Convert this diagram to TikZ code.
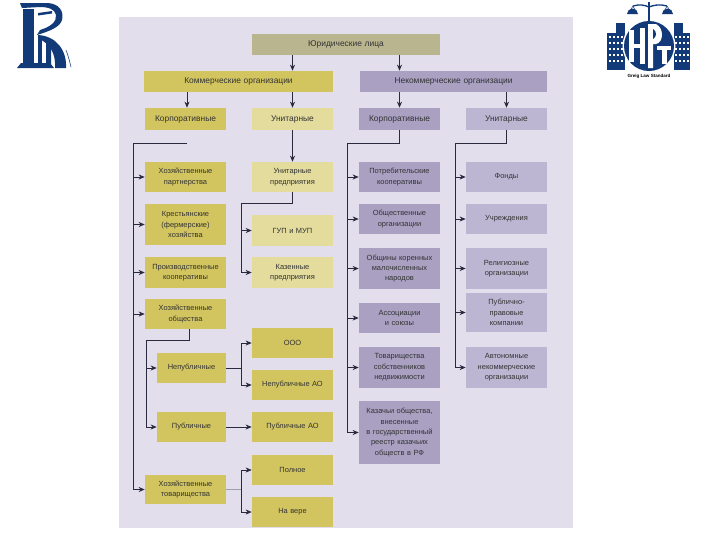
\documentclass[tikz,border=0pt]{standalone}
\usepackage{fontspec}
\setmainfont{Liberation Sans}
\usetikzlibrary{arrows.meta}
\definecolor{panel}{HTML}{E3DEEB}
\definecolor{topc}{HTML}{B9B58F}
\definecolor{ydark}{HTML}{D2C560}
\definecolor{ylite}{HTML}{E3DC9C}
\definecolor{pdark}{HTML}{A9A0C2}
\definecolor{plite}{HTML}{BDB6D3}
\definecolor{navy}{HTML}{123A78}
\definecolor{ink}{HTML}{2A2A3E}
\definecolor{txt}{HTML}{333333}
\tikzset{
 x=0.75pt,y=-0.75pt,
 bxs/.style={inner sep=0pt,align=center,text=txt,font=\fontsize{5.6}{7.8}\selectfont},
 head/.style={bxs,font=\fontsize{6.3}{8}\selectfont},
 tc/.style={head,fill=topc},
 yd/.style={bxs,fill=ydark},
 yl/.style={bxs,fill=ylite},
 pd/.style={bxs,fill=pdark},
 pl/.style={bxs,fill=plite},
 yh/.style={head,fill=ydark},
 ylh/.style={head,fill=ylite},
 ph/.style={head,fill=pdark},
 plh/.style={head,fill=plite},
 conn/.style={draw=ink,line width=0.65pt},
 arr/.style={conn,-{Stealth[length=4.6pt,width=3.8pt]}},
 faint/.style={draw=ink!45,line width=0.4pt},
 logo/.style={fill=navy,draw=none}
}
\newcommand\bx[7]{%
 \pgfmathsetmacro\cxx{(#3+#5)/2}\pgfmathsetmacro\cyy{(#4+#6)/2}%
 \pgfmathsetmacro\wdd{(#5-#3)*0.75}\pgfmathsetmacro\htt{(#6-#4)*0.75}%
 \node[#2,minimum width=\wdd pt,minimum height=\htt pt,text width=\wdd pt] (#1) at (\cxx,\cyy) {#7};}
\begin{document}
\begin{tikzpicture}
\useasboundingbox (0,0) rectangle (720,540);
\fill[white] (0,0) rectangle (720,540);
\fill[panel] (119,17) rectangle (573,528);
% boxes
\bx{top}{tc}{252}{34}{440}{55}{Юридические лица}
\bx{com}{yh}{144}{71}{333}{92}{Коммерческие организации}
\bx{non}{ph}{360}{71}{547}{92}{Некоммерческие организации}
\bx{cc}{yh}{145}{108}{226}{130}{Корпоративные}
\bx{cu}{ylh}{252}{108}{333}{130}{Унитарные}
\bx{nc}{ph}{359}{108}{440}{130}{Корпоративные}
\bx{nu}{plh}{466}{108}{547}{130}{Унитарные}
\bx{a1}{yd}{145}{162}{226}{192}{Хозяйственные\\партнерства}
\bx{a2}{yd}{145}{204}{226}{245}{Крестьянские\\(фермерские)\\хозяйства}
\bx{a3}{yd}{145}{257}{226}{288}{Производственные\\кооперативы}
\bx{a4}{yd}{145}{299}{226}{329}{Хозяйственные\\общества}
\bx{a5}{yd}{157}{353}{226}{383}{Непубличные}
\bx{a6}{yd}{157}{412}{226}{442}{Публичные}
\bx{a7}{yd}{145}{475}{226}{504}{Хозяйственные\\товарищества}
\bx{b1}{yl}{252}{162}{333}{192}{Унитарные\\предприятия}
\bx{b2}{yl}{252}{215}{333}{246}{ГУП и МУП}
\bx{b3}{yl}{252}{257}{333}{288}{Казенные\\предприятия}
\bx{b4}{yd}{252}{328}{333}{358}{ООО}
\bx{b5}{yd}{252}{370}{333}{400}{Непубличные АО}
\bx{b6}{yd}{252}{412}{333}{442}{Публичные АО}
\bx{b7}{yd}{252}{455}{333}{485}{Полное}
\bx{b8}{yd}{252}{497}{333}{527}{На вере}
\bx{c1}{pd}{359}{162}{440}{192}{Потребительские\\кооперативы}
\bx{c2}{pd}{359}{204}{440}{234}{Общественные\\организации}
\bx{c3}{pd}{359}{248}{440}{289}{Общины коренных\\малочисленных\\народов}
\bx{c4}{pd}{359}{303}{440}{333}{Ассоциации\\и союзы}
\bx{c5}{pd}{359}{347}{440}{388}{Товарищества\\собственников\\недвижимости}
\bx{c6}{pd}{359}{401}{440}{464}{Казачьи общества,\\внесенные\\в государственный\\реестр казачьих\\обществ в РФ}
\bx{d1}{pl}{466}{162}{547}{192}{Фонды}
\bx{d2}{pl}{466}{204}{547}{234}{Учреждения}
\bx{d3}{pl}{466}{248}{547}{289}{Религиозные\\организации}
\bx{d4}{pl}{466}{293}{547}{332}{Публично-\\правовые\\компании}
\bx{d5}{pl}{466}{347}{547}{388}{Автономные\\некоммерческие\\организации}
% routing points
\coordinate (s1) at (133,143); \coordinate (s1e) at (187,143);
\coordinate (s2) at (347,143);
\coordinate (s3) at (455,143);
\coordinate (s4) at (241,203);
\coordinate (s5) at (146,340);
\coordinate (s6) at (241,368);
\coordinate (s7) at (241,489.5);
% top connectors
\draw[arr] (top.south -| cu) -- (com.north -| cu);
\draw[arr] (top.south -| nc) -- (non.north -| nc);
\draw[arr] (com.south -| s1e) -- (cc.north -| s1e);
\draw[arr] (com.south -| cu) -- (cu.north);
\draw[arr] (non.south -| nc) -- (nc.north);
\draw[arr] (non.south -| nu) -- (nu.north);
\draw[arr] (cu.south) -- (b1.north);
% commercial corporate
\draw[conn] (s1e) -- (s1);
\foreach \n in {a1,a2,a3,a4,a7} \draw[arr] (s1) |- (\n.west);
% unitary enterprises
\draw[conn] (b1.south) |- (s4);
\foreach \n in {b2,b3} \draw[arr] (s4) |- (\n.west);
% companies
\draw[conn] (a4.south -| 189,0) |- (s5);
\foreach \n in {a5,a6} \draw[arr] (s5) |- (\n.west);
\draw[conn] (a5.east) -- (s6);
\foreach \n in {b4,b5} \draw[arr] (s6) |- (\n.west);
\draw[arr] (a6.east) -- (b6.west);
% partnerships
\draw[faint] (a7.east) -- (s7);
\foreach \n in {b7,b8} \draw[arr,line width=0.45pt] (s7) |- (\n.west);
% non-commercial
\draw[conn] (nc.south) |- (s2);
\foreach \n in {c1,c2,c3,c4,c5,c6} \draw[arr] (s2) |- (\n.west);
\draw[conn] (nu.south) |- (s3);
\foreach \n in {d1,d2,d3,d4,d5} \draw[arr] (s3) |- (\n.west);
% left emblem
\fill[logo] (23,9) rectangle (34,66);
\fill[logo] (17,68) -- (21,63) -- (50,63) -- (54,68) -- cycle;
\fill[logo] (20,3) -- (48,3) .. controls (60,4) and (64,12) .. (62,20) .. controls (60,27) and (50,31) .. (37,35) -- (40,30) .. controls (50,27) and (57,22) .. (56,15) .. controls (55,9) and (48,7) .. (40,7) -- (22,8) -- cycle;
\fill[logo] (38,13) -- (52,11) -- (52,13.5) -- (38,15.5) -- cycle;
\fill[logo] (38,35) .. controls (56,36) and (67,50) .. (66,68) -- (55,68) .. controls (56,54) and (50,43) .. (38,38.5) -- cycle;
\fill[logo] (46,42) -- (51,46) -- (51,65) -- (46,65) -- cycle;
\fill[logo] (38,38) -- (42,38) -- (42,64) -- (38,64) -- cycle;
\draw[navy,line width=0.4pt] (66,50) .. controls (69,58) and (70,63) .. (71,67);
% right emblem: buildings
\foreach \bxl/\bxr/\by in {607/625/33,616/625/23,674/690/33,674/683/23}{
 \fill[logo] (\bxl,\by) rectangle (\bxr,70);
}
\foreach \gy in {37,43,49,55,61}{
 \draw[white,line width=0.9pt,dash pattern=on 1.5pt off 1.5pt] (609,\gy) -- (624,\gy);
 \draw[white,line width=0.9pt,dash pattern=on 1.5pt off 1.5pt] (675,\gy) -- (689,\gy);
}
\fill[white] (649,46) circle[radius=26.5];
\fill[logo] (649,46) circle[radius=25];
% right emblem: letters
\fill[white] (629,30) rectangle (634,62);
\fill[white] (640,28) rectangle (645,64);
\fill[white] (634,44) rectangle (640,48);
\fill[white] (648,24) -- (656,24) .. controls (664,28) and (664,42) .. (656,44) -- (653,44) -- (653,68) -- (648,68) -- cycle;
\fill[navy] (653,29) .. controls (657,31) and (657,37) .. (653,39) -- cycle;
\fill[white] (657,46) rectangle (671,50);
\fill[white] (662,50) rectangle (667,64);
% right emblem: scales
\fill[logo] (648,2) rectangle (650,21);
\draw[navy,line width=1pt] (633,6) .. controls (640,4) and (644,5) .. (649,7) .. controls (654,5) and (660,4) .. (667,6);
\draw[navy,line width=0.4pt] (633,6) -- (628,14) (633,6) -- (637,14) (667,6) -- (663,14) (667,6) -- (672,14);
\fill[logo] (627,14) arc[start angle=180,end angle=360,radius=5.5] -- cycle;
\fill[logo] (662,14) arc[start angle=180,end angle=360,radius=5.5] -- cycle;
\node[inner sep=0pt,text=black,font=\fontsize{3.4}{4}\bfseries\selectfont] (cap) at (649,76) {Greig Law Standard};
\end{tikzpicture}
\end{document}
